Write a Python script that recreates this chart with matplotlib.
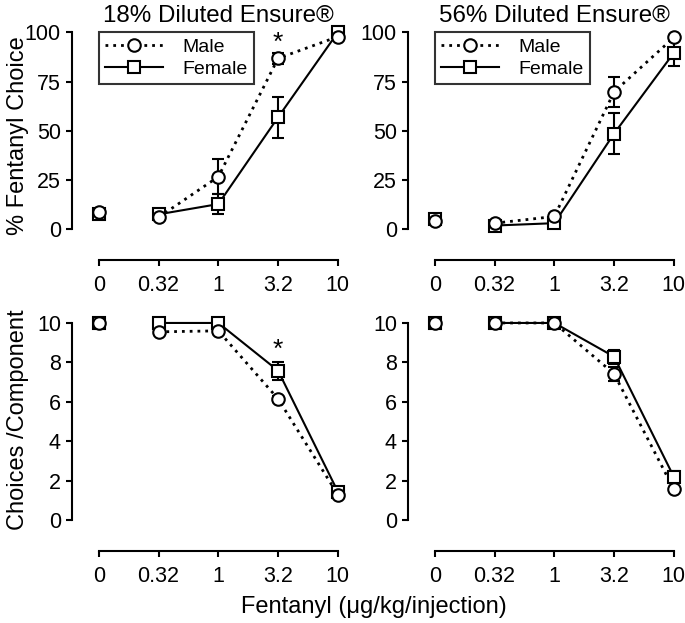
import matplotlib
matplotlib.use("Agg")
import matplotlib.pyplot as plt
import matplotlib.lines as mlines

plt.rcParams["font.family"] = ["Liberation Sans", "DejaVu Sans"]

doses = ["0", "0.32", "1", "3.2", "10"]

# % fentanyl choice, mean and SEM
pct_male_18 = [8.6, 6.1, 26.7, 86.8, 97.8]
pct_male_18_sem = [1.0, 1.0, 8.8, 2.7, 1.0]
pct_female_18 = [8.0, 7.6, 12.8, 56.9, 100.0]
pct_female_18_sem = [1.0, 1.0, 5.0, 10.3, 0.0]
pct_male_56 = [4.4, 3.1, 6.5, 69.8, 97.4]
pct_male_56_sem = [1.0, 1.0, 1.0, 7.7, 1.0]
pct_female_56 = [5.3, 1.9, 3.1, 48.6, 89.6]
pct_female_56_sem = [1.0, 1.0, 1.0, 10.6, 6.5]

# choices per component, mean and SEM
rate_male_18 = [10.0, 9.55, 9.6, 6.15, 1.3]
rate_male_18_sem = [0.0, 0.1, 0.1, 0.15, 0.1]
rate_female_18 = [10.0, 10.0, 10.0, 7.58, 1.45]
rate_female_18_sem = [0.0, 0.0, 0.0, 0.45, 0.1]
rate_male_56 = [10.0, 10.0, 10.0, 7.42, 1.57]
rate_male_56_sem = [0.0, 0.0, 0.0, 0.35, 0.1]
rate_female_56 = [10.0, 10.0, 10.0, 8.29, 2.2]
rate_female_56_sem = [0.0, 0.0, 0.0, 0.35, 0.3]

titles = ["18% Diluted Ensure®", "56% Diluted Ensure®"]

W, H = 685, 623
LW = 1.5
DOT_LW = 2.0
DOT = (0, (1, 1.8))
MS = 9


def px_axes(fig, left, top, right, bottom):
    return fig.add_axes([left / W, 1 - bottom / H, (right - left) / W, (bottom - top) / H])


def draw_group(ax, y, err, marker, ls, lw):
    x = list(range(len(doses)))
    ax.errorbar(x, y, yerr=err, fmt="none", ecolor="black", elinewidth=LW,
                capsize=4.5, capthick=LW, clip_on=False, zorder=2)
    # vehicle point (dose 0) is not joined to the curve
    ax.plot(x[1:], y[1:], color="black", lw=lw, linestyle=ls, clip_on=False, zorder=3)
    ax.plot(x, y, linestyle="none", marker=marker, ms=MS, mfc="white", mec="black",
            mew=LW, clip_on=False, zorder=4)


def style_axes(ax, ylim, yticks, ybound):
    ax.set_xlim(-0.45, 4.12)
    ax.set_ylim(*ylim)
    ax.set_xticks(range(len(doses)))
    ax.set_xticklabels(doses)
    ax.set_yticks(yticks)
    for s in ["top", "right"]:
        ax.spines[s].set_visible(False)
    ax.spines["left"].set_bounds(*ybound)
    ax.spines["bottom"].set_bounds(0, len(doses) - 1)
    for s in ["left", "bottom"]:
        ax.spines[s].set_linewidth(LW)
    ax.tick_params(width=LW, length=4, labelsize=15.5, pad=4, colors="black")
    ax.tick_params(axis="x", pad=7)


fig = plt.figure(figsize=(W / 100, H / 100), dpi=100)

ax_tl = px_axes(fig, 72, 30, 345, 260)
ax_tr = px_axes(fig, 408, 30, 681, 260)
ax_bl = px_axes(fig, 72, 320, 345, 551)
ax_br = px_axes(fig, 408, 320, 681, 551)

top_sets = [
    (ax_tl, pct_male_18, pct_male_18_sem, pct_female_18, pct_female_18_sem),
    (ax_tr, pct_male_56, pct_male_56_sem, pct_female_56, pct_female_56_sem),
]
bottom_sets = [
    (ax_bl, rate_male_18, rate_male_18_sem, rate_female_18, rate_female_18_sem),
    (ax_br, rate_male_56, rate_male_56_sem, rate_female_56, rate_female_56_sem),
]

for i, (ax, m, me, f, fe) in enumerate(top_sets):
    draw_group(ax, f, fe, "s", "-", LW)
    draw_group(ax, m, me, "o", DOT, DOT_LW)
    style_axes(ax, (-15.6, 101.2), [0, 25, 50, 75, 100], (0, 100))
    ax.set_title(titles[i], fontsize=17.4, pad=6, x=0.537)
    handles = [
        mlines.Line2D([], [], color="black", lw=DOT_LW, linestyle=DOT, marker="o", ms=MS,
                      mfc="white", mec="black", mew=LW),
        mlines.Line2D([], [], color="black", lw=LW, linestyle="-", marker="s", ms=MS,
                      mfc="white", mec="black", mew=LW),
    ]
    leg = ax.legend(handles, ["Male", "Female"], loc="upper left",
                    bbox_to_anchor=(0.099, 0.991), borderaxespad=0, fontsize=14,
                    frameon=True, fancybox=False, edgecolor="black", handlelength=3.0,
                    handletextpad=1.0, borderpad=0.3, labelspacing=0.25)
    leg.get_frame().set_linewidth(LW)

for ax, m, me, f, fe in bottom_sets:
    draw_group(ax, f, fe, "s", "-", LW)
    draw_group(ax, m, me, "o", DOT, DOT_LW)
    style_axes(ax, (-1.56, 10.15), [0, 2, 4, 6, 8, 10], (0, 10))

# significance markers (male vs female)
ax_tl.text(3, 94.5, "*", ha="center", va="center", fontsize=19)
ax_bl.text(3, 8.65, "*", ha="center", va="center", fontsize=19)

fig.text(18 / W, 1 - 136 / H, "% Fentanyl Choice", rotation=90, ha="center",
         va="center", fontsize=17)
fig.text(18 / W, 1 - 420 / H, "Choices /Component", rotation=90, ha="center",
         va="center", fontsize=17)
fig.text(374 / W, 1 - 607 / H, "Fentanyl (μg/kg/injection)", ha="center",
         va="center", fontsize=17)

fig.savefig("out.png", dpi=100)
